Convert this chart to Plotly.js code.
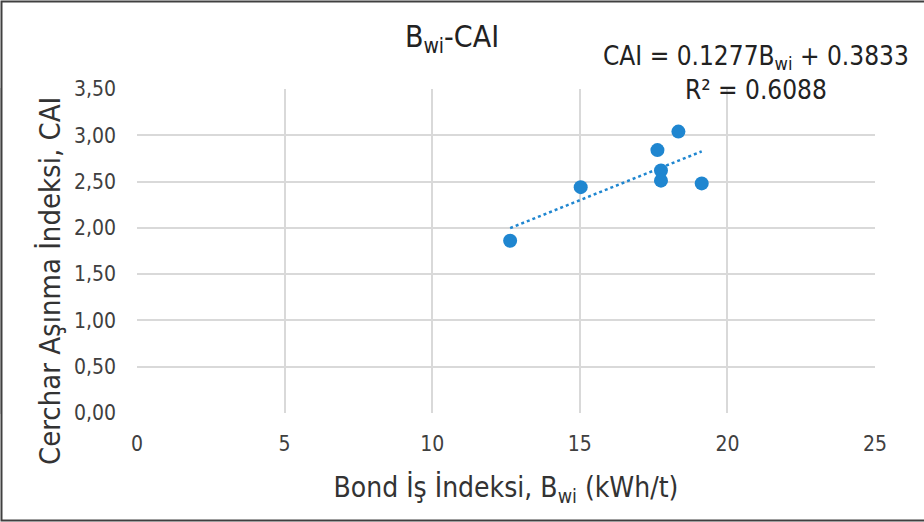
<!DOCTYPE html>
<html>
<head>
<meta charset="utf-8">
<script src="https://cdn.plot.ly/plotly-3.0.1.min.js"></script>
<style>html,body{margin:0;padding:0;background:#fff;}#chart{width:924px;height:522px;}</style>
</head>
<body>
<div id="chart"></div>
<script>
// Data
const bondWorkIndex = [12.64, 15.03, 17.63, 17.75, 17.75, 18.34, 19.13];
const cerCharIndex  = [1.86, 2.44, 2.84, 2.62, 2.51, 3.04, 2.48];
const slope = 0.1277;
const intercept = 0.3833;
const rSquared = 0.6088;
const xTicks = [0, 5, 10, 15, 20, 25];
const yTicks = [0, 0.5, 1.0, 1.5, 2.0, 2.5, 3.0, 3.5];
const xTitle = 'Bond İş İndeksi, B<sub>wi</sub> (kWh/t)';
const yTitle = 'Cerchar Aşınma İndeksi, CAI';

const FONT = '"DejaVu Sans Condensed", "Liberation Sans Narrow", "Open Sans", sans-serif';
const BLUE = 'rgb(31,134,208)';

const xMin = Math.min(...bondWorkIndex), xMax = Math.max(...bondWorkIndex);
const trendX = [xMin, xMax];
const trendY = trendX.map(x => slope * x + intercept);

const traces = [
  {x: trendX, y: trendY, type: 'scatter', mode: 'lines',
   line: {color: BLUE, width: 2.5, dash: 'dot'}, hoverinfo: 'skip', showlegend: false},
  {x: bondWorkIndex, y: cerCharIndex, type: 'scatter', mode: 'markers',
   marker: {color: BLUE, size: 14}, showlegend: false}
];

// plot area: px 137..875 horizontally, 89..413 vertically
const L = 137, R = 875, T = 89, B = 413, W = 924, H = 522;
const px = v => (v - L) / (R - L);
const py = v => (B - v) / (B - T);

const layout = {
  width: W, height: H,
  margin: {l: L, r: W - R, t: T, b: H - B, pad: 0},
  paper_bgcolor: '#fff', plot_bgcolor: '#fff',
  font: {family: FONT, color: '#404040', size: 16},
  title: {text: 'B<sub>wi</sub>-CAI', font: {family: FONT, size: 30, color: '#222'},
          x: px(452), xref: 'paper', xanchor: 'center', y: 1 - 36 / H, yanchor: 'middle'},
  xaxis: {range: [0, 25], tickvals: xTicks, ticktext: xTicks.map(String),
          showgrid: true, gridcolor: '#d9d9d9', gridwidth: 2, zeroline: false,
          showline: false, ticks: '', ticklen: 0, ticklabelstandoff: 16,
          tickfont: {family: FONT, size: 21, color: '#404040'},
          title: {text: xTitle, font: {family: FONT, size: 28, color: '#333'}, standoff: 22}},
  yaxis: {range: [0, 3.5], tickvals: yTicks, ticktext: yTicks.map(v => v.toFixed(2).replace('.', ',')),
          showgrid: true, gridcolor: '#d9d9d9', gridwidth: 2, zeroline: false,
          showline: false, ticks: '', ticklen: 0, ticklabelstandoff: 20,
          tickfont: {family: FONT, size: 21, color: '#404040'}},
  shapes: [
    {type: 'rect', xref: 'paper', yref: 'paper', x0: px(0), x1: px(1), y0: 0, y1: 1,
     line: {color: '#d0d0d0', width: 2}, layer: 'below'},
    {type: 'rect', xref: 'paper', yref: 'paper', x0: px(1.5), x1: px(935), y0: py(520.5), y1: py(1.5),
     line: {color: '#404040', width: 2}, fillcolor: 'rgba(0,0,0,0)'}
  ],
  annotations: [
    {text: 'CAI = ' + slope + 'B<sub>wi</sub> + ' + intercept + '<br>R² = ' + rSquared,
     xref: 'paper', yref: 'paper', x: px(756), y: py(73), xanchor: 'center', yanchor: 'middle',
     showarrow: false, align: 'center', font: {family: FONT, size: 26, color: '#222'}},
    {text: yTitle, textangle: -90, xref: 'paper', yref: 'paper', x: px(50), y: py(281),
     xanchor: 'center', yanchor: 'middle', showarrow: false,
     font: {family: FONT, size: 29, color: '#333'}}
  ]
};

Plotly.newPlot('chart', traces, layout, {displayModeBar: false, staticPlot: true});
</script>
</body>
</html>
